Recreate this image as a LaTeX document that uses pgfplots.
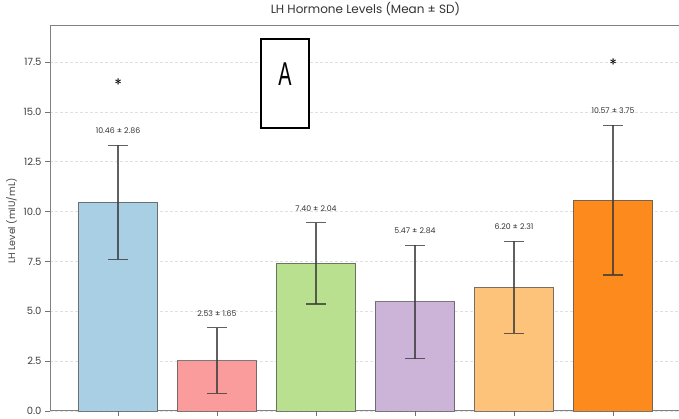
\documentclass[border=0pt]{standalone}
\usepackage{pgfplots}
\pgfplotsset{compat=1.18}
\usepackage{graphicx}
\usepackage{fontspec}
\setmainfont{Poppins}
\newfontfamily\narrowfont{Liberation Sans}
\definecolor{c1}{HTML}{A9CFE4}
\definecolor{c2}{HTML}{F99C9B}
\definecolor{c3}{HTML}{B9E08F}
\definecolor{c4}{HTML}{CBB4D8}
\definecolor{c5}{HTML}{FDC37A}
\definecolor{c6}{HTML}{FD8A1C}
\definecolor{ebar}{HTML}{3A3A3A}
\begin{document}
\begin{tikzpicture}
\useasboundingbox (-50pt,-8pt) rectangle (629pt,411pt);
\clip (-50pt,-8pt) rectangle (629pt,411pt);
\begin{axis}[
  at={(0pt,0pt)}, anchor=south west,
  scale only axis, width=637.3pt, height=385pt,
  xmin=-0.687, xmax=5.75, ymin=0, ymax=19.31,
  ytick={0,2.5,5,7.5,10,12.5,15,17.5},
  xtick={0,1,2,3,4,5}, xticklabels={},
  xtick pos=left, ytick pos=left,
  tick align=outside, major tick length=5pt,
  tick style={black!55, line width=0.8pt},
  axis line style={black!50, line width=1pt},
  ymajorgrids, grid style={densely dashed, black!12, line width=0.6pt},
  yticklabel style={/pgf/number format/.cd, fixed, fixed zerofill, precision=1, assume math mode=true},
  ticklabel style={font=\fontsize{10}{12}\selectfont, color=black!75},
  title={LH Hormone Levels (Mean ± SD)},
  title style={at={(axis description cs:0.495,1)}, anchor=center, yshift=11pt, font=\fontsize{12}{14}\selectfont, color=black!80},
  clip=false,
  mybar/.style={ybar, bar width=0.8, bar shift=0pt, draw=black!65, draw opacity=0.8, line width=0.9pt,
    error bars/y dir=both, error bars/y explicit,
    error bars/error bar style={line width=1.4pt, draw=ebar},
    error bars/error mark options={line width=1.4pt, draw=ebar, mark size=10pt, rotate=90}},
]
\addplot[mybar, fill=c1] coordinates {(0,10.46) +- (0,2.86)};
\addplot[mybar, fill=c2] coordinates {(1,2.53) +- (0,1.65)};
\addplot[mybar, fill=c3] coordinates {(2,7.40) +- (0,2.04)};
\addplot[mybar, fill=c4] coordinates {(3,5.47) +- (0,2.84)};
\addplot[mybar, fill=c5] coordinates {(4,6.20) +- (0,2.31)};
\addplot[mybar, fill=c6] coordinates {(5,10.57) +- (0,3.75)};
\begin{scope}[every node/.style={font=\fontsize{7.8}{9}\selectfont, color=black!80}]
\node at (axis cs:0,14.04) {10.46 ± 2.86};
\node at (axis cs:1,4.90) {2.53 ± 1.65};
\node at (axis cs:2,10.16) {7.40 ± 2.04};
\node at (axis cs:3,9.03) {5.47 ± 2.84};
\node at (axis cs:4,9.23) {6.20 ± 2.31};
\node at (axis cs:5,15.04) {10.57 ± 3.75};
\end{scope}
\node[text=black, font=\fontsize{14}{14}\selectfont] at (axis cs:0,16.5) {$\ast$};
\node[text=black, font=\fontsize{14}{14}\selectfont, xshift=0.5pt] at (axis cs:0,16.5) {$\ast$};
\node[text=black, font=\fontsize{14}{14}\selectfont] at (axis cs:5,17.5) {$\ast$};
\node[text=black, font=\fontsize{14}{14}\selectfont, xshift=0.5pt] at (axis cs:5,17.5) {$\ast$};
\draw[line width=1.2pt, fill=white] (axis cs:1.444,14.19) rectangle (axis cs:1.929,18.66);
\node at (axis cs:1.687,16.9) {\scalebox{0.6}[1]{\narrowfont\fontsize{33}{33}\selectfont A}};
\end{axis}
\node[rotate=90, anchor=base, font=\fontsize{9.5}{11}\selectfont, color=black!75, inner sep=0pt] at (-35pt,190pt) {LH Level (mIU/mL)};
\end{tikzpicture}
\end{document}
